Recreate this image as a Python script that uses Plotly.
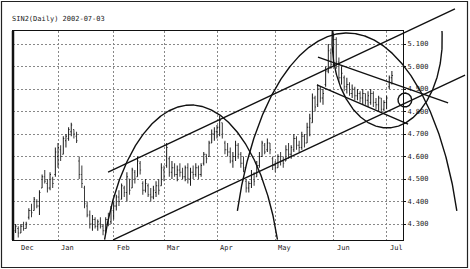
import numpy as np
import pandas as pd
import plotly.graph_objects as go

# ---------------- data ----------------
holidays = ["2001-12-25", "2002-01-01", "2002-01-21", "2002-02-18", "2002-03-29", "2002-05-27"]
dates = [d for d in pd.bdate_range("2001-12-07", "2002-07-03") if d.strftime("%Y-%m-%d") not in holidays]

highs = [4.30,4.29,4.30,4.31,4.31,4.37,4.39,4.42,4.41,4.45,4.52,4.54,4.50,4.53,4.51,4.64,
         4.66,4.65,4.69,4.70,4.73,4.75,4.72,4.71,4.60,4.56,4.47,4.40,4.36,4.34,4.33,4.32,4.33,4.30,4.33,4.35,4.38,
         4.40,4.43,4.45,4.48,4.47,4.53,4.50,4.55,4.54,4.60,4.58,4.49,4.50,4.48,4.46,4.47,4.49,4.50,4.57,
         4.56,4.66,4.60,4.58,4.57,4.56,4.57,4.55,4.56,4.57,4.55,4.56,4.57,4.56,4.57,4.62,4.61,4.67,4.72,4.73,
         4.74,4.78,4.75,4.67,4.66,4.64,4.62,4.67,4.66,4.62,4.60,4.50,4.49,4.54,4.53,4.58,4.62,4.67,4.66,4.68,4.66,4.60,
         4.58,4.61,4.62,4.60,4.65,4.66,4.65,4.70,4.69,4.67,4.71,4.70,4.75,4.79,4.88,4.87,4.92,4.91,4.90,5.00,5.10,5.08,
         5.15,5.13,5.04,5.00,4.96,4.95,4.93,4.92,4.91,4.90,4.89,4.90,4.88,4.89,4.90,4.89,4.86,4.87,4.86,4.85,
         4.87,4.96,4.98]
lows = [4.26,4.24,4.26,4.27,4.28,4.32,4.33,4.36,4.37,4.34,4.46,4.48,4.44,4.45,4.46,4.51,
        4.55,4.58,4.61,4.64,4.67,4.69,4.68,4.66,4.50,4.46,4.37,4.33,4.28,4.27,4.28,4.27,4.28,4.25,4.26,4.29,4.30,
        4.32,4.36,4.38,4.41,4.42,4.40,4.43,4.46,4.48,4.51,4.52,4.43,4.44,4.42,4.40,4.41,4.42,4.43,4.47,
        4.49,4.55,4.51,4.50,4.51,4.49,4.51,4.50,4.49,4.48,4.47,4.50,4.51,4.50,4.51,4.56,4.57,4.60,4.66,4.67,
        4.68,4.69,4.68,4.61,4.60,4.57,4.55,4.58,4.59,4.55,4.53,4.44,4.44,4.46,4.47,4.51,4.55,4.60,4.61,4.62,4.61,4.54,
        4.53,4.55,4.56,4.55,4.58,4.59,4.59,4.62,4.63,4.62,4.63,4.64,4.66,4.69,4.75,4.80,4.82,4.84,4.83,4.91,4.97,4.99,
        5.00,4.99,4.93,4.92,4.89,4.88,4.87,4.86,4.85,4.85,4.84,4.83,4.83,4.82,4.83,4.82,4.81,4.80,4.80,4.80,
        4.81,4.90,4.92]
opens = [4.27,4.28,4.26,4.29,4.28,4.33,4.36,4.36,4.40,4.38,4.46,4.51,4.48,4.46,4.50,4.52,
         4.60,4.63,4.61,4.67,4.68,4.71,4.72,4.69,4.58,4.52,4.46,4.38,4.34,4.30,4.32,4.29,4.30,4.29,4.27,4.32,4.31,
         4.36,4.38,4.42,4.41,4.46,4.44,4.50,4.46,4.53,4.51,4.57,4.48,4.45,4.47,4.43,4.42,4.44,4.47,4.47,
         4.54,4.56,4.59,4.53,4.55,4.52,4.54,4.53,4.51,4.55,4.50,4.53,4.52,4.55,4.52,4.57,4.61,4.60,4.66,4.70,
         4.71,4.73,4.75,4.66,4.63,4.62,4.58,4.60,4.65,4.61,4.57,4.49,4.46,4.48,4.52,4.51,4.56,4.60,4.65,4.63,4.66,4.59,
         4.56,4.55,4.60,4.58,4.58,4.63,4.61,4.63,4.68,4.65,4.64,4.69,4.66,4.73,4.75,4.86,4.83,4.90,4.86,4.92,4.98,5.06,
         5.01,5.12,5.02,4.95,4.95,4.91,4.92,4.88,4.90,4.87,4.88,4.86,4.88,4.85,4.84,4.88,4.84,4.83,4.86,4.81,
         4.84,4.91,4.95]
closes = [4.29,4.26,4.29,4.28,4.30,4.36,4.35,4.41,4.38,4.44,4.51,4.49,4.46,4.52,4.48,4.62,
          4.64,4.60,4.68,4.69,4.72,4.74,4.70,4.67,4.52,4.48,4.39,4.34,4.30,4.32,4.29,4.31,4.29,4.27,4.32,4.30,4.37,
          4.38,4.42,4.40,4.47,4.44,4.51,4.45,4.54,4.50,4.58,4.54,4.45,4.48,4.43,4.42,4.45,4.47,4.45,4.55,
          4.51,4.64,4.53,4.55,4.52,4.54,4.53,4.51,4.55,4.50,4.53,4.52,4.55,4.52,4.56,4.61,4.59,4.66,4.70,4.71,
          4.73,4.76,4.70,4.63,4.62,4.58,4.60,4.65,4.61,4.57,4.55,4.46,4.48,4.52,4.49,4.56,4.60,4.66,4.62,4.66,4.63,4.56,
          4.55,4.60,4.58,4.57,4.63,4.61,4.64,4.68,4.65,4.64,4.69,4.66,4.73,4.77,4.86,4.82,4.90,4.86,4.88,4.98,5.07,5.01,
          5.12,5.02,4.95,4.97,4.91,4.92,4.88,4.90,4.87,4.88,4.86,4.88,4.85,4.87,4.88,4.84,4.83,4.86,4.81,4.84,
          4.86,4.95,4.96]

price_ticks = [4.3, 4.4, 4.5, 4.6, 4.7, 4.8, 4.9, 5.0, 5.1]
price_labels = ["4.300", "4.400", "4.500", "4.600", "4.700", "4.800", "4.900", "5.000", "5.100"]
month_labels = ["Dec", "Jan", "Feb", "Mar", "Apr", "May", "Jun", "Jul"]
title_text = "SIN2(Daily) 2002-07-03"

# analyst drawings, in (trading-day index, price) units
chan_lower = ([36.8, 169.6], [4.229, 4.962])
chan_upper = ([34.9, 165.8], [4.531, 5.256])
desc_upper = ([114.1, 163.2], [5.042, 4.838])
desc_lower = ([113.7, 148.1], [4.918, 4.744])
dome1 = dict(ci=66.2, cp=3.962, ri=34.3, rp=0.867, pmin=4.229)
dome2 = dict(ci=125.1, cp=4.02, ri=43.4, rp=1.129, pmin=4.353)
june_oval = dict(ci=140.2, cp=5.118, ri=20.8, rp=0.391, pmax=5.158)
target = dict(ci=146.9, cp=4.851, ri=2.6, rp=0.031)

# ---------------- figure ----------------
W, H = 470, 269
PX_L, PX_R, PX_T, PX_B = 13, 403, 31, 240
idx = list(range(len(dates)))
month_start = [i for i in idx if i == 0 or dates[i].month != dates[i - 1].month]

def ix(px):  # pixel -> index scale (same as main axis)
    return 16 + (px - 58) / 2.65

def py2p(py):
    return 5.1 - (py - 44) / 225.0

fig = go.Figure()
fig.add_trace(go.Ohlc(
    x=idx, open=opens, high=highs, low=lows, close=closes,
    increasing_line_color="#1a1a1a", decreasing_line_color="#3a3a3a",
    line_width=1, tickwidth=0.35, showlegend=False, hoverinfo="skip"))

LW = 1.4
def add_line(xs, ys):
    fig.add_trace(go.Scatter(x=xs, y=ys, mode="lines", line=dict(color="#111", width=LW),
                             xaxis="x2", yaxis="y2", showlegend=False, hoverinfo="skip"))

def oval(ci, cp, ri, rp, pmin=None, pmax=None, start=0.0, span=2 * np.pi):
    t = start + np.linspace(0, span, 600)
    xs = ci + ri * np.cos(t)
    ys = cp + rp * np.sin(t)
    keep = np.ones_like(xs, dtype=bool)
    if pmin is not None:
        keep &= ys >= pmin
    if pmax is not None:
        keep &= ys <= pmax
    add_line(xs[keep], ys[keep])

add_line(*chan_lower)
add_line(*chan_upper)
add_line(*desc_upper)
add_line(*desc_lower)
oval(**dome1, start=0, span=np.pi)
oval(**dome2, start=0, span=np.pi)
jo = dict(june_oval)
oval(jo["ci"], jo["cp"], jo["ri"], jo["rp"], pmax=jo["pmax"], start=np.pi / 2, span=2 * np.pi)
oval(**target)

fig.update_layout(
    width=W, height=H, autosize=False,
    margin=dict(l=0, r=0, t=0, b=0),
    paper_bgcolor="white", plot_bgcolor="rgba(0,0,0,0)",
    font=dict(family="DejaVu Sans Mono", size=7, color="#222"),
    xaxis=dict(domain=[PX_L / W, PX_R / W], range=[ix(PX_L), ix(PX_R)],
               tickvals=month_start[1:], showticklabels=False, ticks="",
               showgrid=True, gridcolor="#888", griddash="2px,2px", gridwidth=1,
               showline=True, linecolor="#111", linewidth=1, mirror=True,
               zeroline=False, rangeslider=dict(visible=False), fixedrange=True),
    yaxis=dict(domain=[(H - PX_B) / H, (H - PX_T) / H], range=[py2p(PX_B), py2p(PX_T)],
               side="right", tickvals=price_ticks, ticktext=price_labels,
               ticks="outside", ticklen=2, tickcolor="#111",
               showgrid=True, gridcolor="#888", griddash="2px,2px", gridwidth=1,
               showline=True, linecolor="#111", linewidth=1, mirror=True,
               zeroline=False, fixedrange=True, tickfont=dict(size=7)),
    xaxis2=dict(domain=[0, 1], range=[ix(0), ix(W)], visible=False, anchor="y2", fixedrange=True),
    yaxis2=dict(domain=[0, 1], range=[py2p(H), py2p(0)], visible=False, anchor="x2", fixedrange=True),
)

# month labels (left aligned at the month grid line)
label_pos = [0] + month_start[1:]
for lab, pos in zip(month_labels, label_pos):
    fig.add_annotation(x=pos, y=-0.01, xref="x", yref="y domain", text=lab, showarrow=False,
                       xanchor="left", yanchor="top", xshift=1 if pos else 3,
                       font=dict(size=7, color="#222"))

fig.add_annotation(x=10 / W, y=1 - 19 / H, xref="paper", yref="paper", text=title_text,
                   showarrow=False, xanchor="left", yanchor="middle",
                   font=dict(size=7, color="#222"))

# thick left border of the price panel and outer frame
fig.add_shape(type="line", xref="paper", yref="paper", x0=PX_L / W, x1=PX_L / W,
              y0=(H - PX_B) / H, y1=(H - PX_T) / H, line=dict(color="#111", width=2.5))
fig.add_shape(type="rect", xref="paper", yref="paper", x0=1.5 / W, x1=(W - 2.5) / W,
              y0=1.5 / H, y1=(H - 1.5) / H, line=dict(color="#222", width=1.2))

fig.write_html("out.html")
